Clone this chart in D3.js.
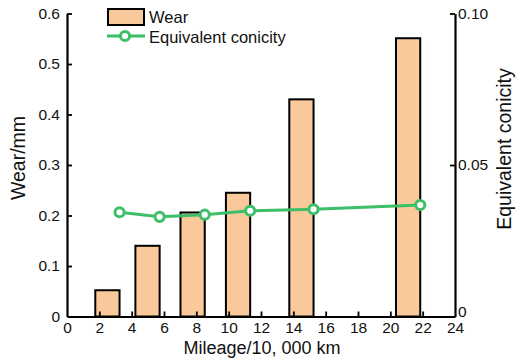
<!DOCTYPE html>
<html>
<head>
<meta charset="utf-8">
<script src="https://cdn.jsdelivr.net/npm/d3@7"></script>
<style>
  html, body { margin: 0; padding: 0; background: #fff; }
  svg { display: block; font-family: "Liberation Sans", Arial, sans-serif; }
</style>
</head>
<body>
<svg id="chart" width="516" height="364"></svg>
<script>
// Wheel wear and equivalent conicity versus mileage
const mileage = [3.25, 5.73, 8.52, 11.33, 15.25, 21.85];      // 10,000 km
const wear = [0.052, 0.140, 0.206, 0.245, 0.430, 0.551];       // mm
const conicity = [0.0344, 0.0329, 0.0336, 0.0349, 0.0354, 0.0368];
const xTicks = [0, 2, 4, 6, 8, 10, 12, 14, 16, 18, 20, 22, 24];
const yLeftTicks = [0, 0.1, 0.2, 0.3, 0.4, 0.5, 0.6];
const yRightTicks = [0, 0.05, 0.10];

const barSpan = 1.5;   // bar width in mileage units, bar ends at the sample mileage
const green = "#3cbf66";
const peach = "#f9c99b";

const svg = d3.select("#chart");
const L = 67, R = 455, T = 13.5, B = 316.5;

const x = d3.scaleLinear().domain([0, 24]).range([L, R]);
const yL = d3.scaleLinear().domain([0, 0.6]).range([B, T]);
const yR = d3.scaleLinear().domain([0, 0.10]).range([B, T]);

// bars
svg.append("g").selectAll("rect").data(wear).join("rect")
  .attr("x", (d, i) => x(mileage[i] - barSpan))
  .attr("width", (d, i) => x(mileage[i]) - x(mileage[i] - barSpan))
  .attr("y", d => yL(d))
  .attr("height", d => yL(0) - yL(d))
  .attr("fill", peach)
  .attr("stroke", "#000")
  .attr("stroke-width", 2);

// axes
const tickFont = "15.5px";
const gx = svg.append("g").attr("transform", `translate(0,${B})`)
  .call(d3.axisBottom(x).tickValues(xTicks).tickFormat(d3.format("d")).tickSizeInner(-5).tickSizeOuter(0).tickPadding(5));
const gl = svg.append("g").attr("transform", `translate(${L},0)`)
  .call(d3.axisLeft(yL).tickValues(yLeftTicks).tickFormat(d => d === 0 ? "0" : d3.format(".1f")(d)).tickSizeInner(-5).tickSizeOuter(0).tickPadding(7));
const gr = svg.append("g").attr("transform", `translate(${R},0)`)
  .call(d3.axisRight(yR).tickValues(yRightTicks).tickFormat(d => d === 0 ? "0" : d3.format(".2f")(d)).tickSizeInner(-5).tickSizeOuter(0).tickPadding(3));

[gx, gl, gr].forEach(g => {
  g.select(".domain").attr("stroke", "#000").attr("stroke-width", 2.2);
  g.selectAll(".tick line").attr("stroke", "#000").attr("stroke-width", 1.8);
  g.selectAll(".tick text").attr("fill", "#111").style("font-size", tickFont).style("font-family", "Liberation Sans, Arial, sans-serif");
});
gr.selectAll(".tick").filter(d => d === 0).select("line").remove();
gr.selectAll(".tick").filter(d => d === 0).select("text").attr("dy", "-0.02em");
gl.selectAll(".tick").filter(d => d === 0).select("line").remove();
gx.selectAll(".tick").filter(d => d === 0 || d === 24).select("line").remove();

// line + markers
const line = d3.line().x((d, i) => x(mileage[i])).y(d => yR(d));
svg.append("path").datum(conicity)
  .attr("d", line).attr("fill", "none")
  .attr("stroke", green).attr("stroke-width", 3);
svg.append("g").selectAll("circle").data(conicity).join("circle")
  .attr("cx", (d, i) => x(mileage[i]))
  .attr("cy", d => yR(d))
  .attr("r", 4.6)
  .attr("fill", "#fff")
  .attr("stroke", green)
  .attr("stroke-width", 3);

// axis titles
svg.append("text").attr("x", (L + R) / 2 + 1).attr("y", 354)
  .attr("text-anchor", "middle").style("font-size", "18px").attr("fill", "#111")
  .text("Mileage/10, 000 km");
svg.append("text").attr("transform", "translate(25,158) rotate(-90)")
  .attr("text-anchor", "middle").style("font-size", "19.5px").attr("fill", "#111")
  .text("Wear/mm");
svg.append("text").attr("transform", "translate(511,149) rotate(-90)")
  .attr("text-anchor", "middle").style("font-size", "19.5px").attr("fill", "#111")
  .text("Equivalent conicity");

// legend
const lg = svg.append("g");
lg.append("rect").attr("x", 108).attr("y", 9).attr("width", 36).attr("height", 16)
  .attr("fill", peach).attr("stroke", "#000").attr("stroke-width", 2);
lg.append("text").attr("x", 149).attr("y", 23).style("font-size", "16.5px").attr("fill", "#111").text("Wear");
lg.append("line").attr("x1", 107).attr("x2", 145).attr("y1", 36).attr("y2", 36)
  .attr("stroke", green).attr("stroke-width", 3);
lg.append("circle").attr("cx", 125).attr("cy", 36).attr("r", 4.6)
  .attr("fill", "#fff").attr("stroke", green).attr("stroke-width", 3);
lg.append("text").attr("x", 149).attr("y", 43).style("font-size", "16.5px").attr("fill", "#111").text("Equivalent conicity");
</script>
</body>
</html>
